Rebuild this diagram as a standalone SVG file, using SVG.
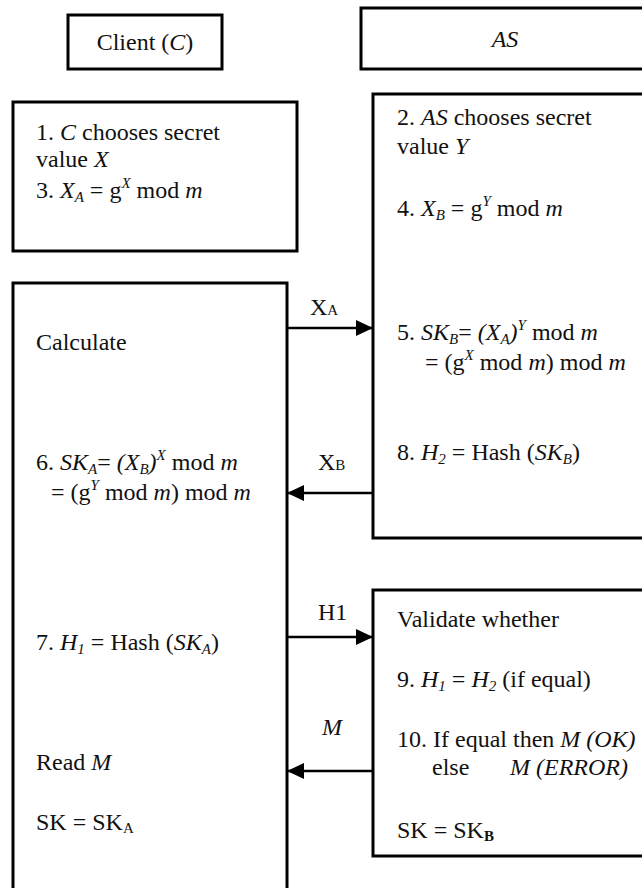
<svg xmlns="http://www.w3.org/2000/svg" width="642" height="888" viewBox="0 0 642 888">
<style>
.box{fill:#fff;stroke:#000;stroke-width:3}
.t{font-family:"Liberation Serif","Times New Roman",serif;font-size:24px;fill:#111}
.i{font-style:italic}
.s{font-size:15px}
.lbl{font-family:"Liberation Serif","Times New Roman",serif;font-size:24px;fill:#111}
.con{stroke:#000;stroke-width:2.5;fill:none}
</style>
<defs>
<marker id="ah" markerUnits="userSpaceOnUse" markerWidth="18" markerHeight="16" refX="17" refY="8" orient="auto">
<path d="M0,0 L17,8 L0,16 z" fill="#000"/>
</marker>
</defs>
<rect width="642" height="888" fill="#fff"/>

<g id="client-header">
<rect class="box" x="68" y="15" width="154" height="54"/>
<text class="t" x="145" y="50" text-anchor="middle">Client (<tspan class="i">C</tspan>)</text>
</g>

<g id="as-header">
<rect class="box" x="361" y="8" width="300" height="61"/>
<text class="t i" x="505" y="47" text-anchor="middle">AS</text>
</g>

<g id="client-step1">
<rect class="box" x="13" y="102" width="284" height="149"/>
<text class="t" x="36" y="140">1. <tspan class="i">C</tspan> chooses secret</text>
<text class="t" x="36" y="167">value <tspan class="i">X</tspan></text>
<text class="t" x="36" y="198">3. <tspan class="i">X</tspan><tspan class="s i" dy="4">A</tspan><tspan dy="-4"> = g</tspan><tspan class="s i" dy="-10">X</tspan><tspan dy="10"> mod </tspan><tspan class="i">m</tspan></text>
</g>

<g id="as-step2">
<rect class="box" x="373" y="94" width="290" height="444"/>
<text class="t" x="397" y="125">2. <tspan class="i">AS</tspan> chooses secret</text>
<text class="t" x="397" y="154">value <tspan class="i">Y</tspan></text>
<text class="t" x="397" y="216">4. <tspan class="i">X</tspan><tspan class="s i" dy="4">B</tspan><tspan dy="-4"> = g</tspan><tspan class="s i" dy="-10">Y</tspan><tspan dy="10"> mod </tspan><tspan class="i">m</tspan></text>
<text class="t" x="397" y="340">5. <tspan class="i">SK</tspan><tspan class="s i" dy="4">B</tspan><tspan dy="-4">= </tspan><tspan class="i">(X</tspan><tspan class="s i" dy="4">A</tspan><tspan class="i" dy="-4">)</tspan><tspan class="s i" dy="-10">Y</tspan><tspan dy="10"> mod </tspan><tspan class="i">m</tspan></text>
<text class="t" x="425" y="370">= (g<tspan class="s i" dy="-10">X</tspan><tspan dy="10"> mod </tspan><tspan class="i">m</tspan>) mod <tspan class="i">m</tspan></text>
<text class="t" x="397" y="460">8. <tspan class="i">H</tspan><tspan class="s i" dy="4">2</tspan><tspan dy="-4"> = Hash (</tspan><tspan class="i">SK</tspan><tspan class="s i" dy="4">B</tspan><tspan dy="-4">)</tspan></text>
</g>

<g id="client-calc">
<rect class="box" x="13" y="283" width="274" height="640"/>
<text class="t" x="36" y="350">Calculate</text>
<text class="t" x="36" y="470">6. <tspan class="i">SK</tspan><tspan class="s i" dy="4">A</tspan><tspan dy="-4">= </tspan><tspan class="i">(X</tspan><tspan class="s i" dy="4">B</tspan><tspan class="i" dy="-4">)</tspan><tspan class="s i" dy="-10">X</tspan><tspan dy="10"> mod </tspan><tspan class="i">m</tspan></text>
<text class="t" x="51" y="500">= (g<tspan class="s i" dy="-10">Y</tspan><tspan dy="10"> mod </tspan><tspan class="i">m</tspan>) mod <tspan class="i">m</tspan></text>
<text class="t" x="36" y="650">7. <tspan class="i">H</tspan><tspan class="s i" dy="4">1</tspan><tspan dy="-4"> = Hash (</tspan><tspan class="i">SK</tspan><tspan class="s i" dy="4">A</tspan><tspan dy="-4">)</tspan></text>
<text class="t" x="36" y="770">Read <tspan class="i">M</tspan></text>
<text class="t" x="36" y="830">SK = SK<tspan class="s" dy="3">A</tspan></text>
</g>

<g id="as-validate">
<rect class="box" x="373" y="590" width="290" height="266"/>
<text class="t" x="397" y="627">Validate whether</text>
<text class="t" x="397" y="687">9. <tspan class="i">H</tspan><tspan class="s i" dy="4">1</tspan><tspan dy="-4"> = </tspan><tspan class="i">H</tspan><tspan class="s i" dy="4">2</tspan><tspan dy="-4"> (if equal)</tspan></text>
<text class="t" x="397" y="747">10. If equal then <tspan class="i">M (OK)</tspan></text>
<text class="t" x="432" y="775">else</text>
<text class="t i" x="510" y="775">M (ERROR)</text>
<text class="t" x="397" y="838">SK = SK<tspan class="s" dy="3" font-weight="bold">B</tspan></text>
</g>

<g id="connectors">
<line class="con" x1="287" y1="328" x2="373" y2="328" marker-end="url(#ah)"/>
<text class="lbl" x="310" y="315">X<tspan class="s">A</tspan></text>
<line class="con" x1="373" y1="493" x2="287" y2="493" marker-end="url(#ah)"/>
<text class="lbl" x="318" y="470">X<tspan class="s">B</tspan></text>
<line class="con" x1="287" y1="637" x2="373" y2="637" marker-end="url(#ah)"/>
<text class="lbl" x="318" y="620">H1</text>
<line class="con" x1="373" y1="771" x2="287" y2="771" marker-end="url(#ah)"/>
<text class="lbl i" x="322" y="735">M</text>
</g>
</svg>
